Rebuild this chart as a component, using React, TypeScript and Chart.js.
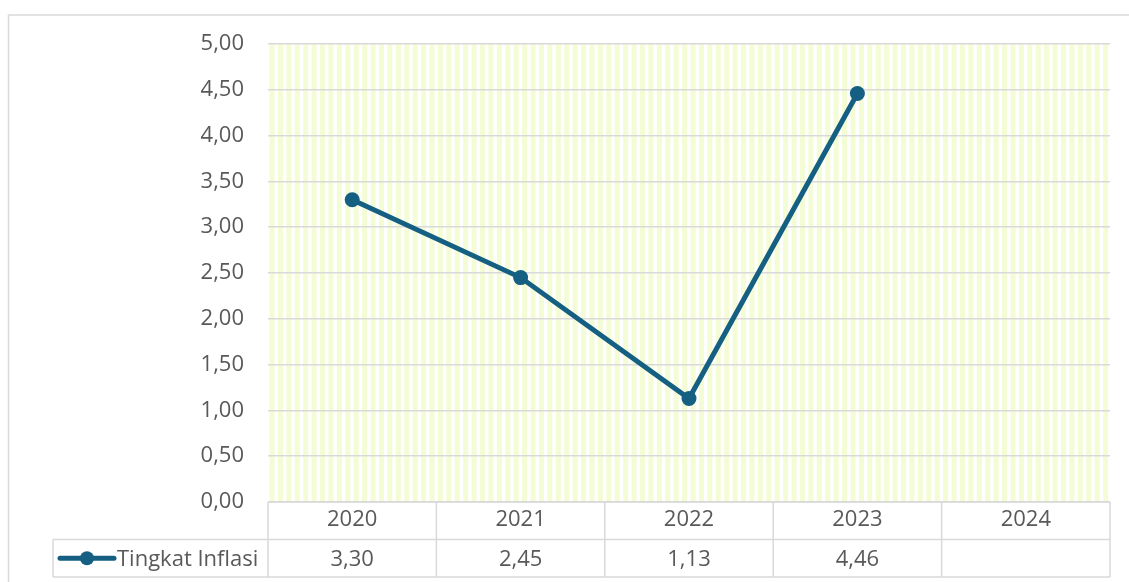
import React, { useEffect, useRef } from "react";
import { Chart, registerables } from "chart.js";

Chart.register(...registerables);

const categories = ["2020", "2021", "2022", "2023", "2024"];
const seriesName = "Tingkat Inflasi";
const inflation: (number | null)[] = [3.3, 2.45, 1.13, 4.46, null];
const yTicks = [0, 0.5, 1, 1.5, 2, 2.5, 3, 3.5, 4, 4.5, 5];

const LINE = "#156082";
const TEXT = "#595959";
const GRID = "#d9d9d9";
const STRIPE = "#f4fcd6";
const FONT = "'Open Sans', sans-serif";
const FS = 22;

const fmt = (v: number) => v.toFixed(2).replace(".", ",");

const chartDecor = {
  id: "chartDecor",
  beforeDraw(chart: any) {
    const { ctx, chartArea } = chart;
    const { left, right, top, bottom } = chartArea;
    ctx.save();
    ctx.fillStyle = "#ffffff";
    ctx.fillRect(0, 0, chart.width, chart.height);
    // outer frame
    ctx.strokeStyle = GRID;
    ctx.lineWidth = 1.5;
    ctx.strokeRect(8.5, 15, chart.width + 10, chart.height + 10);
    // striped plot area
    ctx.beginPath();
    ctx.rect(left, top, right - left, bottom - top);
    ctx.clip();
    ctx.fillStyle = STRIPE;
    const step = (right - left) / 100;
    for (let i = 0; i < 100; i++) {
      ctx.fillRect(left + i * step + 1.5, top, step * 0.6, bottom - top);
    }
    ctx.restore();
  },
  afterDraw(chart: any) {
    const { ctx, chartArea, scales } = chart;
    const { left, right, bottom } = chartArea;
    const xs = scales.x;
    const n = categories.length;
    const colW = (right - left) / n;
    const rowH = 37.5;
    const r1 = bottom + rowH;
    const r2 = r1 + rowH;
    const legendLeft = 53;
    ctx.save();
    ctx.strokeStyle = GRID;
    ctx.lineWidth = 1.5;
    ctx.beginPath();
    ctx.moveTo(left, bottom);
    ctx.lineTo(right, bottom);
    ctx.moveTo(legendLeft, r1);
    ctx.lineTo(right, r1);
    ctx.moveTo(legendLeft, r2);
    ctx.lineTo(right, r2);
    for (let i = 0; i <= n; i++) {
      const x = left + i * colW;
      ctx.moveTo(x, bottom);
      ctx.lineTo(x, r2);
    }
    ctx.moveTo(legendLeft, r1);
    ctx.lineTo(legendLeft, r2);
    ctx.stroke();

    ctx.fillStyle = TEXT;
    ctx.font = `${FS}px ${FONT}`;
    ctx.textAlign = "center";
    ctx.textBaseline = "middle";
    const ym = (r1 + r2) / 2;
    inflation.forEach((v, i) => {
      if (v === null) return;
      ctx.fillText(fmt(v), xs.getPixelForValue(i), ym + 1);
    });

    ctx.strokeStyle = LINE;
    ctx.lineWidth = 5;
    ctx.lineCap = "round";
    ctx.beginPath();
    ctx.moveTo(60, ym);
    ctx.lineTo(114, ym);
    ctx.stroke();
    ctx.fillStyle = LINE;
    ctx.beginPath();
    ctx.arc(87, ym, 7, 0, Math.PI * 2);
    ctx.fill();
    ctx.fillStyle = TEXT;
    ctx.textAlign = "left";
    ctx.fillText(seriesName, 117, ym + 1);
    ctx.restore();
  },
};

export default function App() {
  const ref = useRef<HTMLCanvasElement | null>(null);
  useEffect(() => {
    if (!ref.current) return;
    const chart = new Chart(ref.current, {
      type: "line",
      data: {
        labels: categories,
        datasets: [
          {
            label: seriesName,
            data: inflation,
            borderColor: LINE,
            backgroundColor: LINE,
            borderWidth: 5,
            pointRadius: 7.5,
            pointBorderWidth: 0,
            pointBackgroundColor: LINE,
            tension: 0,
          },
        ],
      },
      plugins: [chartDecor],
      options: {
        animation: false,
        responsive: true,
        maintainAspectRatio: false,
        layout: { padding: { left: 0, top: 44, right: 19, bottom: 0 } },
        plugins: { legend: { display: false }, tooltip: { enabled: false } },
        scales: {
          x: {
            type: "category",
            offset: true,
            grid: { display: false, drawTicks: false },
            border: { display: false },
            ticks: {
              color: TEXT,
              font: { family: FONT, size: FS },
              padding: 5,
              maxRotation: 0,
            },
            afterFit: (s: any) => {
              s.height = 80;
            },
          },
          y: {
            min: 0,
            max: 5,
            afterBuildTicks: (s: any) => {
              s.ticks = yTicks.map((v) => ({ value: v }));
            },
            grid: { color: GRID, lineWidth: 1.5, drawTicks: false },
            border: { display: false },
            ticks: {
              color: TEXT,
              font: { family: FONT, size: FS },
              padding: 24,
              callback: (v: any) => fmt(Number(v)),
            },
            afterFit: (s: any) => {
              s.width = 268;
            },
          },
        },
      },
    });
    return () => chart.destroy();
  }, []);
  return (
    <div style={{ position: "fixed", left: 0, top: 0, width: 1129, height: 582 }}>
      <canvas ref={ref} />
    </div>
  );
}
